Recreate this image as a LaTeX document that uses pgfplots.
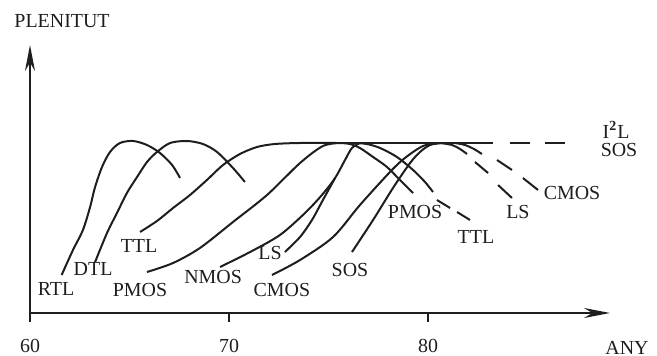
\documentclass[border=0pt]{standalone}
\usepackage{pgfplots}
\pgfplotsset{compat=1.18}
\usepackage{fontspec}
\setmainfont{Liberation Serif}
\usetikzlibrary{arrows.meta}
\definecolor{ink}{RGB}{30,30,30}
\tikzset{lbl/.style={font=\fontsize{10}{12}\selectfont, text=ink, inner sep=0pt}}
\begin{document}
\begin{tikzpicture}
\path[use as bounding box] (-15bp,-21.5bp) rectangle (313.5bp,156.5bp);
\begin{axis}[
  at={(0,0)}, anchor=south west,
  width=290bp, height=134bp, scale only axis,
  xmin=60, xmax=89.146, ymin=0, ymax=268,
  axis lines=left,
  axis line style={ink, line width=1bp, -{Stealth[length=13bp,width=5bp]}},
  xtick={60,70,80}, ytick=\empty,
  tick align=outside, major tick length=4.5bp,
  tick style={ink, line width=1bp},
  xticklabel style={font=\fontsize{10}{12}\selectfont, text=ink, anchor=center, yshift=-12bp},
  /pgf/number format/assume math mode=true,
  clip=false,
  cycle list={{ink, mark=none}},
  every axis plot/.append style={ink, line width=1bp, smooth, mark=none},
]
% RTL
\addplot coordinates {(61.59,38) (62.16,63) (62.66,83) (63.02,106) (63.27,126) (63.62,146) (64.02,161) (64.52,170) (65.18,172) (65.88,168) (66.53,160) (67.14,148) (67.54,135)};
% DTL
\addplot coordinates {(63.27,51) (63.87,80) (64.37,100) (64.87,120) (65.38,136) (65.88,151) (66.38,161) (67.04,170) (67.89,172) (68.69,169) (69.40,161) (70.20,145) (70.80,131)};
% TTL rising
\addplot coordinates {(65.53,81) (66.38,92) (67.19,105) (68.04,118) (68.89,133) (69.70,148) (70.55,159) (71.41,166) (72.31,169) (73.57,170) (75.40,170)};
% plateau
\addplot[ink, line width=1.4bp] coordinates {(75.20,170) (83.27,170)};
\addplot[ink, line width=1.4bp] coordinates {(84.12,170) (85.13,170)};
\addplot[ink, line width=1.4bp] coordinates {(85.88,170) (86.88,170)};
% TTL falling
\addplot coordinates {(76.33,170) (76.93,169) (77.59,165) (78.44,156) (79.25,143) (79.85,131) (80.25,121)};
\addplot coordinates {(80.45,113) (81.11,105)};
\addplot coordinates {(81.46,101) (82.11,93)};
% PMOS rising
\addplot coordinates {(65.88,41) (67.19,50) (68.54,65) (70.20,91) (71.91,118) (73.57,150) (74.72,167) (75.58,170)};
% PMOS falling
\addplot coordinates {(75.58,170) (76.08,169) (76.58,165) (77.24,156) (77.94,146) (78.59,133) (79.25,120)};
% NMOS
\addplot coordinates {(69.55,46) (71.06,61) (72.56,78) (73.82,100) (74.67,118) (75.33,135) (75.83,153) (76.18,165) (76.58,170)};
% LS rising
\addplot coordinates {(72.81,61) (73.57,76) (74.17,93) (74.72,113) (75.33,135)};
% CMOS rising
\addplot coordinates {(72.16,38) (73.57,53) (75.23,76) (76.58,108) (78.09,141) (78.84,155) (79.75,167) (80.60,170)};
% SOS rising
\addplot coordinates {(76.18,61) (77.24,93) (78.24,125) (79.10,150) (79.60,161) (80.10,168) (80.70,170)};
% LS falling
\addplot coordinates {(80.60,170) (81.21,168) (81.61,164) (81.96,159)};
\addplot coordinates {(82.36,151) (83.02,140)};
\addplot coordinates {(83.52,128) (84.22,115)};
% CMOS falling
\addplot coordinates {(81.36,170) (81.86,168) (82.31,164) (82.71,159)};
\addplot coordinates {(83.47,153) (84.22,143)};
\addplot coordinates {(84.77,135) (85.53,123)};
% labels
\node[lbl] at (axis cs:61.31,24) {RTL};
\node[lbl] at (axis cs:63.17,44) {DTL};
\node[lbl] at (axis cs:65.48,67) {TTL};
\node[lbl] at (axis cs:65.53,23) {PMOS};
\node[lbl] at (axis cs:69.20,36) {NMOS};
\node[lbl] at (axis cs:72.06,60) {LS};
\node[lbl] at (axis cs:72.66,23) {CMOS};
\node[lbl] at (axis cs:76.08,43) {SOS};
\node[lbl] at (axis cs:79.35,101) {PMOS};
\node[lbl] at (axis cs:82.41,76) {TTL};
\node[lbl] at (axis cs:84.52,101) {LS};
\node[lbl] at (axis cs:87.24,120) {CMOS};
\node[lbl] at (axis cs:89.45,183) {I\textsuperscript{\bfseries 2}L};
\node[lbl] at (axis cs:89.60,163) {SOS};
\node[lbl] at (axis cs:61.61,292) {PLENITUT};
\node[lbl] at (axis cs:90.0,-35) {ANY};
\end{axis}
\end{tikzpicture}
\end{document}
